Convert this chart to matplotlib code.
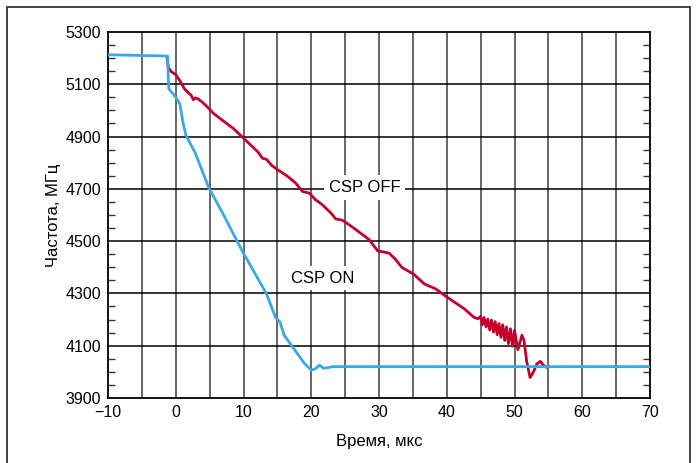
import matplotlib
matplotlib.use("Agg")
import matplotlib.pyplot as plt
from matplotlib.patches import Rectangle
from matplotlib.ticker import MultipleLocator

plt.rcParams['font.family'] = ['Liberation Sans', 'DejaVu Sans']

# CSP ON (blue)
on_x = [-10, -1.2, -1.1, -1.0, 0.0, 0.6, 1.1, 1.5, 2.9, 4.9, 6.9, 9.8, 13.4,
        14.7, 15.4, 16.0, 17.4, 19.0, 20.0, 20.6, 21.2, 21.8, 22.5, 23.1, 70]
on_y = [5213, 5208, 5120, 5082, 5051, 5025, 4950, 4905, 4836, 4703, 4608, 4463, 4298,
        4210, 4190, 4140, 4090, 4032, 4007, 4011, 4026, 4014, 4016, 4020, 4020]

# CSP OFF (red)
off_x = [-1.3, -1.1, -0.7, 0.0, 0.6, 1.3, 2.3, 2.6, 2.9, 3.3, 3.9, 4.6, 5.6, 6.9,
         8.5, 9.8, 10.8, 12.1, 12.8, 13.4, 14.1, 15.1, 16.4, 17.7, 18.7, 19.7,
         20.6, 21.6, 22.9, 23.6, 24.6, 25.9, 27.2, 28.5, 29.8, 31.5, 32.4, 33.4,
         35.1, 36.7, 38.4, 39.7, 41.0, 42.6, 44.0, 44.6,
         45.0, 45.25, 45.5, 45.8, 46.05, 46.35, 46.6, 46.9, 47.15, 47.45, 47.7,
         48.0, 48.25, 48.55, 48.8, 49.1, 49.4, 49.7, 50.0, 50.5, 51.1, 51.4,
         51.8, 52.3, 52.8, 53.3, 53.8, 54.2, 54.6, 55.0]
off_y = [5205, 5165, 5149, 5137, 5114, 5082, 5057, 5041, 5048, 5044, 5032, 5015, 4988, 4962,
         4931, 4899, 4874, 4842, 4817, 4813, 4791, 4772, 4750, 4722, 4690, 4684,
         4659, 4640, 4608, 4585, 4580, 4557, 4532, 4507, 4463, 4454, 4431, 4399,
         4374, 4336, 4317, 4292, 4269, 4241, 4209, 4203,
         4212, 4180, 4208, 4172, 4202, 4160, 4198, 4152, 4192, 4142, 4185,
         4132, 4180, 4120, 4172, 4108, 4165, 4098, 4158, 4085, 4140, 4120,
         4040, 3978, 4000, 4030, 4040, 4028, 4018, 4020]

x_ticks = [-10, 0, 10, 20, 30, 40, 50, 60, 70]
y_ticks = [3900, 4100, 4300, 4500, 4700, 4900, 5100, 5300]
x_label = "Время, мкс"
y_label = "Частота, МГц"

fig = plt.figure(figsize=(6.97, 4.63), dpi=100)
ax = fig.add_axes([108/697, 1 - 398/463, (650-108)/697, (398-32)/463])

# outer frame
fig.patches.append(Rectangle((7/697, -0.1), (690-7)/697, 1.1 - 7/463,
                             transform=fig.transFigure, fill=False,
                             edgecolor='#222222', linewidth=1.2))

ax.set_xlim(-10, 70)
ax.set_ylim(3900, 5300)
ax.set_xticks(x_ticks)
ax.set_yticks(y_ticks)
ax.set_xticklabels(["\u221210" if t < 0 else str(t) for t in x_ticks])
ax.yaxis.set_minor_locator(MultipleLocator(50))
ax.tick_params(axis='both', which='major', length=0, pad=5, labelsize=11.5)
ax.tick_params(axis='y', which='minor', direction='in', length=5, width=1,
               left=True, right=True, color='#333333')

for v in range(-5, 70, 5):
    ax.axvline(v, color='#666666', linewidth=1.4, zorder=1)
for h in y_ticks[1:-1]:
    ax.axhline(h, color='black', linewidth=1.1, zorder=1)

for s in ax.spines.values():
    s.set_linewidth(1.3)
    s.set_color('black')

ax.plot(off_x, off_y, color='#C4002B', linewidth=2.0, zorder=3)
ax.plot(on_x, on_y, color='#3AA8E6', linewidth=2.0, zorder=4)

bbox = dict(facecolor='white', edgecolor='none', pad=3.5)
ax.text(27.9, 4705, "CSP OFF", fontsize=12, ha='center', va='center',
        bbox=bbox, zorder=5)
ax.text(21.7, 4359, "CSP ON", fontsize=12, ha='center', va='center',
        bbox=bbox, zorder=5)

ax.set_xlabel(x_label, fontsize=12, labelpad=10)
ax.set_ylabel(y_label, fontsize=12, labelpad=3)

fig.savefig("out.png", dpi=100)
